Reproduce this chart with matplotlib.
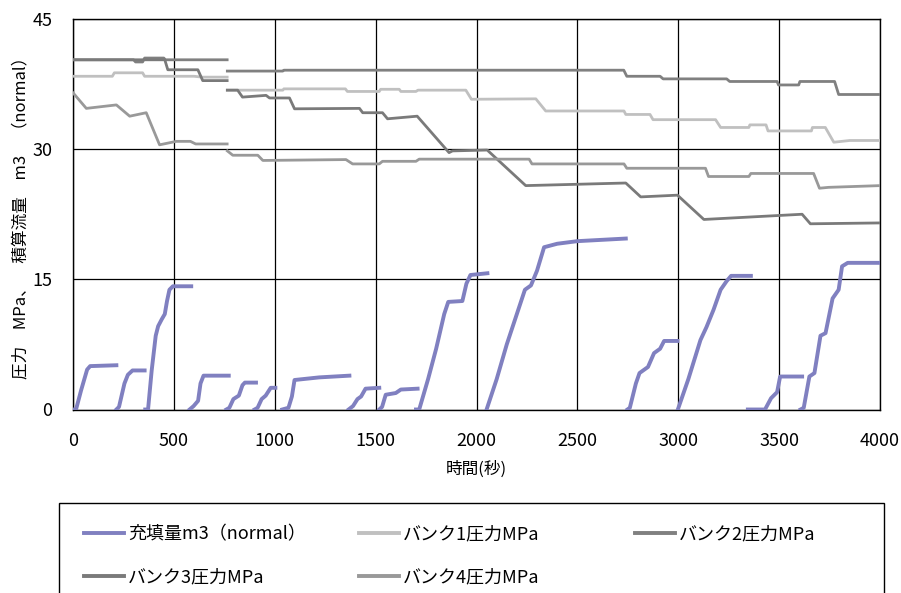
import numpy as np
import matplotlib
matplotlib.use("Agg")
import matplotlib.pyplot as plt
from matplotlib.patches import Rectangle

plt.rcParams['font.family'] = ['Noto Sans CJK JP', 'DejaVu Sans']

# 充填量 (None = 区切り)
fill_t = [0, 15, 40, 70, 85, 215, None,
          215, 228, 255, 272, 295, 355, None,
          358, 372, 390, 410, 422, 440, 455, 466, 478, 495, 586, None,
          578, 598, 620, 632, 647, 772, None,
          760, 775, 795, 822, 840, 852, 907, None,
          900, 915, 935, 955, 980, 1003, None,
          1037, 1068, 1085, 1098, 1220, 1370, None,
          1366, 1388, 1410, 1428, 1450, 1518, None,
          1518, 1532, 1550, 1600, 1625, 1708, None,
          1700, 1716, 1760, 1800, 1840, 1860, 1930, 1950, 1970, 2054, None,
          2050, 2100, 2150, 2200, 2240, 2270, 2300, 2335, 2400, 2500, 2740, None,
          2748, 2760, 2790, 2808, 2850, 2880, 2910, 2930, 2996, None,
          2998, 3050, 3110, 3140, 3175, 3210, 3240, 3262, 3360, None,
          3345, 3430, 3460, 3490, 3505, 3614, None,
          3606, 3622, 3650, 3675, 3705, 3730, 3765, 3795, 3812, 3840, 4000]
fill_v = [0, 0, 2.2, 4.6, 5.0, 5.1, None,
          0, 0.3, 3.0, 4.0, 4.5, 4.5, None,
          0, 0, 4.5, 8.5, 9.6, 10.4, 11.0, 12.5, 13.8, 14.2, 14.2, None,
          0, 0.4, 1.0, 3.0, 3.9, 3.9, None,
          0, 0.2, 1.2, 1.6, 2.8, 3.1, 3.1, None,
          0, 0.2, 1.2, 1.6, 2.5, 2.5, None,
          0, 0.2, 1.5, 3.4, 3.7, 3.9, None,
          0, 0.4, 1.2, 1.5, 2.4, 2.5, None,
          0, 0.3, 1.7, 1.9, 2.3, 2.4, None,
          0, 0, 3.5, 7.0, 11.0, 12.4, 12.5, 14.5, 15.5, 15.7, None,
          0, 3.5, 7.5, 11.0, 13.8, 14.3, 16.0, 18.7, 19.1, 19.4, 19.7, None,
          0, 0.2, 3.0, 4.2, 4.9, 6.5, 7.0, 7.9, 7.9, None,
          0, 3.5, 8.0, 9.5, 11.5, 13.8, 14.8, 15.4, 15.4, None,
          0, 0, 1.3, 2.0, 3.8, 3.8, None,
          0, 0.2, 3.8, 4.2, 8.5, 8.8, 12.8, 13.8, 16.5, 16.9, 16.9]

# バンク1
bank1_t = [0, 195, 205, 345, 355, 600, 640, 764, None,
           765, 1040, 1045, 1350, 1360, 1518, 1525, 1617, 1625, 1700, 1710, 1947, 1975,
           2294, 2343, 2731, 2740, 2860, 2875, 3185, 3210, 3350, 3355, 3435, 3445,
           3660, 3665, 3729, 3771, 3850, 4000]
bank1_v = [38.4, 38.4, 38.8, 38.8, 38.4, 38.4, 38.3, 38.3, None,
           36.8, 36.8, 36.95, 36.95, 36.65, 36.65, 36.9, 36.9, 36.65, 36.65, 36.8, 36.8, 35.75,
           35.8, 34.4, 34.4, 34.0, 34.0, 33.4, 33.4, 32.5, 32.5, 32.8, 32.8, 32.1,
           32.1, 32.5, 32.5, 30.8, 31.0, 31.0]

# バンク2
bank2_t = [0, 300, 310, 345, 355, 450, 458, 764, None,
           765, 1040, 1045, 2730, 2745, 2910, 2925, 3240, 3255, 3490, 3497, 3597, 3603,
           3775, 3795, 4000]
bank2_v = [40.3, 40.3, 40.05, 40.05, 40.5, 40.5, 40.3, 40.3, None,
           39.0, 39.0, 39.1, 39.1, 38.4, 38.4, 38.1, 38.1, 37.8, 37.8, 37.4, 37.4, 37.8,
           37.8, 36.3, 36.3]

# バンク3
bank3_t = [0, 455, 470, 619, 643, 764, None,
           765, 816, 840, 957, 974, 1073, 1098, 1420, 1436, 1534, 1559, 1706, 1864, 1881,
           2053, 2244, 2740, 2814, 2996, 3127, 3614, 3655, 4000]
bank3_v = [40.3, 40.3, 39.15, 39.15, 37.9, 37.9, None,
           36.8, 36.8, 36.0, 36.2, 35.9, 35.9, 34.65, 34.7, 34.2, 34.2, 33.5, 33.8, 29.6, 29.8,
           29.9, 25.8, 26.1, 24.5, 24.7, 21.9, 22.5, 21.4, 21.5]

# バンク4
bank4_t = [0, 66, 215, 281, 363, 429, 512, 582, 608, 764, None,
           765, 792, 916, 941, 1353, 1386, 1518, 1534, 1700, 1716, 2261, 2275, 2731, 2745,
           3135, 3150, 3350, 3360, 3671, 3700, 3745, 4000]
bank4_v = [36.5, 34.7, 35.1, 33.8, 34.2, 30.5, 30.9, 30.9, 30.6, 30.6, None,
           29.8, 29.3, 29.3, 28.7, 28.8, 28.3, 28.3, 28.6, 28.6, 28.85, 28.85, 28.3, 28.3, 27.8,
           27.8, 26.85, 26.85, 27.2, 27.2, 25.5, 25.6, 25.8]


def arr(a):
    return np.array([np.nan if x is None else x for x in a], dtype=float)


fig = plt.figure(figsize=(9.01, 5.93), dpi=100)
ax = fig.add_axes([73 / 901, 1 - 409.5 / 593, 807 / 901, 390.5 / 593])

l0, = ax.plot(arr(fill_t), arr(fill_v), color="#8080C0", lw=2.8, label="充填量m3（normal）", zorder=5)
l1, = ax.plot(arr(bank1_t), arr(bank1_v), color="#C0C0C0", lw=2.0, label="バンク1圧力MPa", zorder=4)
l2, = ax.plot(arr(bank2_t), arr(bank2_v), color="#808080", lw=2.0, label="バンク2圧力MPa", zorder=4)
l3, = ax.plot(arr(bank3_t), arr(bank3_v), color="#7A7A7A", lw=2.0, label="バンク3圧力MPa", zorder=4)
l4, = ax.plot(arr(bank4_t), arr(bank4_v), color="#999999", lw=2.0, label="バンク4圧力MPa", zorder=4)

ax.set_xlim(0, 4000)
ax.set_ylim(0, 45)
ax.set_xticks(np.arange(0, 4001, 500))
ax.set_yticks([0, 15, 30, 45])
ax.grid(True, color="black", lw=0.9)
ax.set_axisbelow(True)
ax.tick_params(length=0, labelsize=13)
ax.tick_params(axis="x", pad=16)
ax.tick_params(axis="y", pad=15)
for s in ax.spines.values():
    s.set_color("black")
    s.set_linewidth(1.0)

ax.set_xlabel("時間(秒)", fontsize=12, labelpad=8)
ax.set_ylabel("圧力　MPa、　積算流量　m3　（normal）", fontsize=12, labelpad=2)

# legend box (runs off the bottom edge like the original)
fig.patches.append(Rectangle((59 / 901, -0.05), 825 / 901, 0.05 + 1 - 503 / 593,
                             transform=fig.transFigure, fill=False,
                             edgecolor="black", linewidth=1.0))

# one legend per column so the columns sit at fixed positions
columns = [([l0, l3], 84), ([l1, l4], 359), ([l2], 635)]
for hs, xpix in columns:
    leg = fig.legend(hs, [h.get_label() for h in hs],
                     loc="upper left", bbox_to_anchor=(xpix / 901, 1 - 525.5 / 593),
                     fontsize=13, frameon=False, handlelength=2.2, handletextpad=0.25,
                     labelspacing=1.4, borderpad=0, borderaxespad=0)
    for ln in leg.get_lines():
        ln.set_linewidth(2.8)

fig.savefig("out.png", dpi=100)
